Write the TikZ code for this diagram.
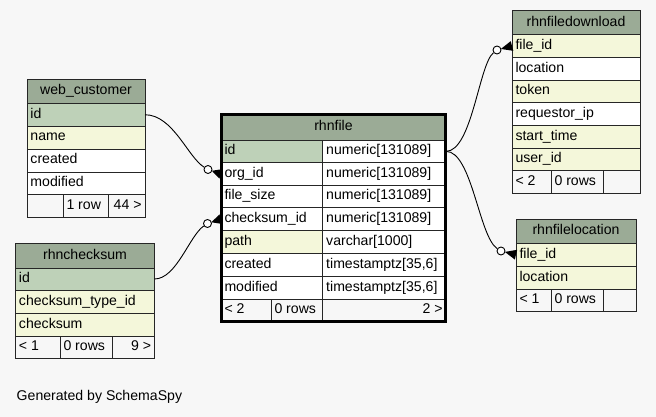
\documentclass[tikz,border=0pt]{standalone}
\usepackage{fontspec}
\setmainfont{Liberation Sans}
\usetikzlibrary{calc}

\definecolor{bgcol}{HTML}{F7F7F7}
\definecolor{hdrcol}{HTML}{9BAB96}
\definecolor{pkcol}{HTML}{BED1B8}
\definecolor{ixcol}{HTML}{F4F7DA}
\definecolor{linecol}{HTML}{262626}

\newcommand\tfont{\fontsize{14.1}{16}\selectfont}

\tikzset{
  cell/.style={draw=linecol, line width=0.9pt, rectangle, inner sep=0pt,
    outer sep=0pt, anchor=north west, font=\tfont, text height=10pt, text depth=3pt},
  rel/.style={draw=black, line width=0.9pt},
  odot/.style={circle, draw=black, fill=white, line width=0.9pt, inner sep=0pt, minimum size=8pt},
  crow/.style={fill=black},
  focusframe/.style={draw=black, line width=3pt},
}

% cell: name, x, y, width, height, fill, text
\newcommand\lcell[7]{\node[cell,fill=#6,minimum height=#5] (#1) at (#2,#3) {\hbox to #4pt{\hskip3.5pt #7\hfil}};}
\newcommand\rcell[7]{\node[cell,fill=#6,minimum height=#5] (#1) at (#2,#3) {\hbox to #4pt{\hfil #7\hskip3.5pt}};}
\newcommand\ccell[7]{\node[cell,fill=#6,minimum height=#5] (#1) at (#2,#3) {\hbox to #4pt{\hfil #7\hfil}};}

\begin{document}
\begin{tikzpicture}[x=1pt,y=-1pt]
  \fill[bgcol] (0,0) rectangle (656,417);
  \useasboundingbox (0,0) rectangle (656,417);

  % web_customer
  \ccell{wc-h}{27}{79.5}{118}{24}{hdrcol}{web\_customer}
  \lcell{wc-id}{27}{103.5}{118}{22.5}{pkcol}{id}
  \lcell{wc-name}{27}{126}{118}{23}{ixcol}{name}
  \lcell{wc-created}{27}{149}{118}{23}{white}{created}
  \lcell{wc-modified}{27}{172}{118}{22.5}{white}{modified}
  \lcell{wc-f1}{27}{194.5}{36}{23}{bgcol}{}
  \lcell{wc-f2}{63}{194.5}{45}{23}{bgcol}{1 row}
  \rcell{wc-f3}{108}{194.5}{37}{23}{bgcol}{44 >}

  % rhnchecksum
  \ccell{rc-h}{15.5}{243.5}{139}{24.5}{hdrcol}{rhnchecksum}
  \lcell{rc-id}{15.5}{268}{139}{22}{pkcol}{id}
  \lcell{rc-type}{15.5}{290}{139}{23}{ixcol}{checksum\_type\_id}
  \lcell{rc-sum}{15.5}{313}{139}{23}{ixcol}{checksum}
  \lcell{rc-f1}{15.5}{336}{44.5}{22.5}{bgcol}{< 1}
  \lcell{rc-f2}{60}{336}{52}{22.5}{bgcol}{0 rows}
  \rcell{rc-f3}{112}{336}{42.5}{22.5}{bgcol}{9 >}

  % rhnfile
  \ccell{rf-h}{221}{114}{225}{26}{hdrcol}{rhnfile}
  \lcell{rf-id}{221}{140}{101.7}{22.7}{pkcol}{id}
  \lcell{rf-id-t}{322.7}{140}{123.3}{22.7}{white}{numeric[131089]}
  \lcell{rf-org}{221}{162.7}{101.7}{22.3}{white}{org\_id}
  \lcell{rf-org-t}{322.7}{162.7}{123.3}{22.3}{white}{numeric[131089]}
  \lcell{rf-size}{221}{185}{101.7}{22.7}{white}{file\_size}
  \lcell{rf-size-t}{322.7}{185}{123.3}{22.7}{white}{numeric[131089]}
  \lcell{rf-cks}{221}{207.7}{101.7}{23}{white}{checksum\_id}
  \lcell{rf-cks-t}{322.7}{207.7}{123.3}{23}{white}{numeric[131089]}
  \lcell{rf-path}{221}{230.7}{101.7}{22.6}{ixcol}{path}
  \lcell{rf-path-t}{322.7}{230.7}{123.3}{22.6}{white}{varchar[1000]}
  \lcell{rf-created}{221}{253.3}{101.7}{22.7}{white}{created}
  \lcell{rf-created-t}{322.7}{253.3}{123.3}{22.7}{white}{timestamptz[35,6]}
  \lcell{rf-modified}{221}{276}{101.7}{23}{white}{modified}
  \lcell{rf-modified-t}{322.7}{276}{123.3}{23}{white}{timestamptz[35,6]}
  \lcell{rf-f1}{221}{299}{50}{22.7}{bgcol}{< 2}
  \lcell{rf-f2}{271}{299}{51.7}{22.7}{bgcol}{0 rows}
  \rcell{rf-f3}{322.7}{299}{123.3}{22.7}{bgcol}{2 >}
  \draw[focusframe] ($(rf-h.north west)+(0.5,0.5)$) rectangle ($(rf-f3.south east)+(-0.5,-0.5)$);

  % rhnfiledownload
  \ccell{rd-h}{512}{10.7}{128}{24}{hdrcol}{rhnfiledownload}
  \lcell{rd-file}{512}{34.7}{128}{22.6}{ixcol}{file\_id}
  \lcell{rd-loc}{512}{57.3}{128}{22.7}{white}{location}
  \lcell{rd-token}{512}{80}{128}{22.7}{ixcol}{token}
  \lcell{rd-ip}{512}{102.7}{128}{22.6}{white}{requestor\_ip}
  \lcell{rd-start}{512}{125.3}{128}{22.7}{ixcol}{start\_time}
  \lcell{rd-user}{512}{148}{128}{22.7}{ixcol}{user\_id}
  \lcell{rd-f1}{512}{170.7}{39}{22.6}{bgcol}{< 2}
  \lcell{rd-f2}{551}{170.7}{52}{22.6}{bgcol}{0 rows}
  \lcell{rd-f3}{603}{170.7}{37}{22.6}{bgcol}{}

  % rhnfilelocation
  \ccell{rl-h}{516}{219.3}{120}{24}{hdrcol}{rhnfilelocation}
  \lcell{rl-file}{516}{243.3}{120}{22.7}{ixcol}{file\_id}
  \lcell{rl-loc}{516}{266}{120}{23}{ixcol}{location}
  \lcell{rl-f1}{516}{289}{35}{22.7}{bgcol}{< 1}
  \lcell{rl-f2}{551}{289}{52}{22.7}{bgcol}{0 rows}
  \lcell{rl-f3}{603}{289}{33}{22.7}{bgcol}{}

  % relationship ends (open circle + crow's foot)
  \node[odot] (d1) at (208,169.5) {};
  \node[odot] (d2) at (207.5,223.5) {};
  \node[odot] (d3) at (497,50) {};
  \node[odot] (d4) at (501,251) {};

  % connectors
  \draw[rel] (wc-id.east) .. controls ($(wc-id.east)+(28,0)$) and ($(d1.center)+(-20,-12)$) .. (d1);
  \draw[rel] (rc-id.east) .. controls ($(rc-id.east)+(22,0)$) and ($(d2.center)+(-18,12)$) .. (d2);
  \draw[rel] (rf-id-t.east) .. controls ($(rf-id-t.east)+(26,0)$) and ($(d3.center)+(-18,14)$) .. (d3);
  \draw[rel] (rf-id-t.east) .. controls ($(rf-id-t.east)+(26,0)$) and ($(d4.center)+(-22,-14)$) .. (d4);

  % crow's feet
  \foreach \d/\t in {d1/rf-org, d2/rf-cks, d3/rd-file, d4/rl-file}{
    \fill[crow] ($(\d.center)!4pt!(\t.west)$) -- ($(\t.west)!5pt!90:(\d.center)$)
      -- ($(\t.west)!5pt!-90:(\d.center)$) -- cycle;
  }

  \node[font=\tfont, anchor=base west, inner sep=0pt] (gen) at (16.5,400.5) {Generated by SchemaSpy};
\end{tikzpicture}
\end{document}
